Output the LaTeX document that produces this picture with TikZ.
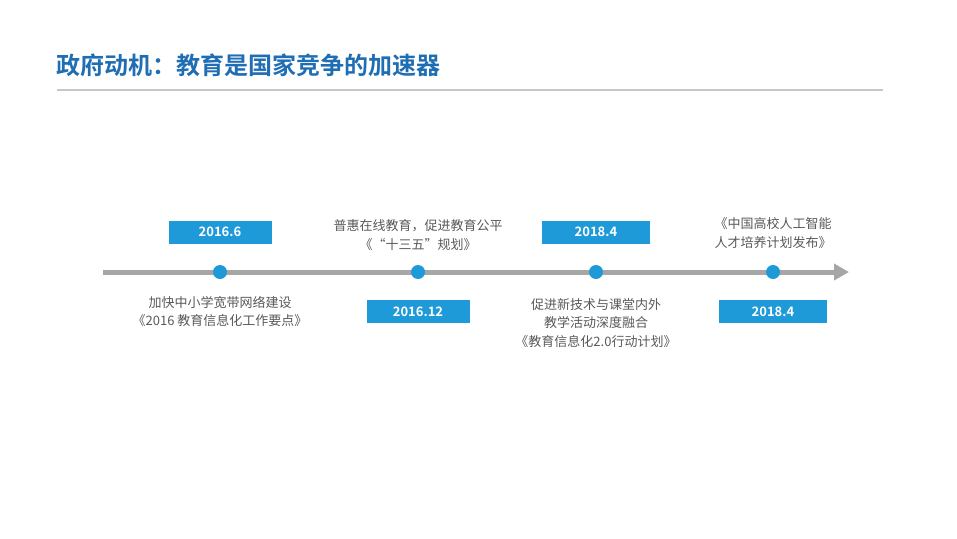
\documentclass[tikz,border=0pt]{standalone}
\usepackage{fontspec}
\setmainfont{Noto Sans CJK SC}
\newfontfamily\cjkbold{Noto Sans CJK SC Bold}
\usepackage{xcolor}
\usetikzlibrary{arrows.meta,positioning}
\definecolor{titleblue}{HTML}{1F6DB3}
\definecolor{dotblue}{HTML}{1E9AD9}
\definecolor{linegray}{HTML}{A6A6A6}
\definecolor{textgray}{HTML}{595959}

\begin{document}
\begin{tikzpicture}[
  x=1pt, y=-1pt,
  font=\fontsize{13}{18.5}\selectfont,
  datebox/.style={fill=dotblue, text=white, minimum width=103pt, minimum height=23pt, inner sep=0pt, font=\cjkbold\fontsize{13}{15}\selectfont},
  dot/.style={circle, fill=dotblue, minimum size=14pt, inner sep=0pt},
  note/.style={align=center, text=textgray, inner sep=1pt},
  timeline/.style={-{Triangle[length=15pt,width=16pt]}, line width=5pt, draw=linegray}
]
\useasboundingbox (0,0) rectangle (957,538);

% title and rule
\node[anchor=west, text=titleblue, font=\cjkbold\fontsize{24}{26}\selectfont, inner sep=0pt] (title) at (56,65) {政府动机：教育是国家竞争的加速器};
\coordinate (ruleA) at (57,90);
\coordinate (ruleB) at (883,90);
\draw[draw=black!22, line width=1.5pt] (ruleA) -- (ruleB);

% timeline
\coordinate (tstart) at (103,272);
\coordinate (tend) at (849,272);
\draw[timeline] (tstart) -- (tend);

\node[dot] (d1) at (220,272) {};
\node[dot] (d2) at (418,272) {};
\node[dot] (d3) at (596,272) {};
\node[dot] (d4) at (773,272) {};

% dates
\node[datebox, above=21pt of d1] (y1) {2016.6};
\node[datebox, below=21pt of d2] (y2) {2016.12};
\node[datebox, above=21pt of d3, minimum width=108pt] (y3) {2018.4};
\node[datebox, below=21pt of d4, minimum width=108pt] (y4) {2018.4};

% notes
\node[note, below=16pt of d1] (n1) {加快中小学宽带网络建设\\《2016 教育信息化工作要点》};
\node[note, above=13pt of d2] (n2) {普惠在线教育，促进教育公平\\《“十三五”规划》};
\node[note, below=18pt of d3] (n3) {促进新技术与课堂内外\\教学活动深度融合\\《教育信息化2.0行动计划》};
\node[note, above=15pt of d4] (n4) {《中国高校人工智能\\人才培养计划发布》};

\end{tikzpicture}
\end{document}
